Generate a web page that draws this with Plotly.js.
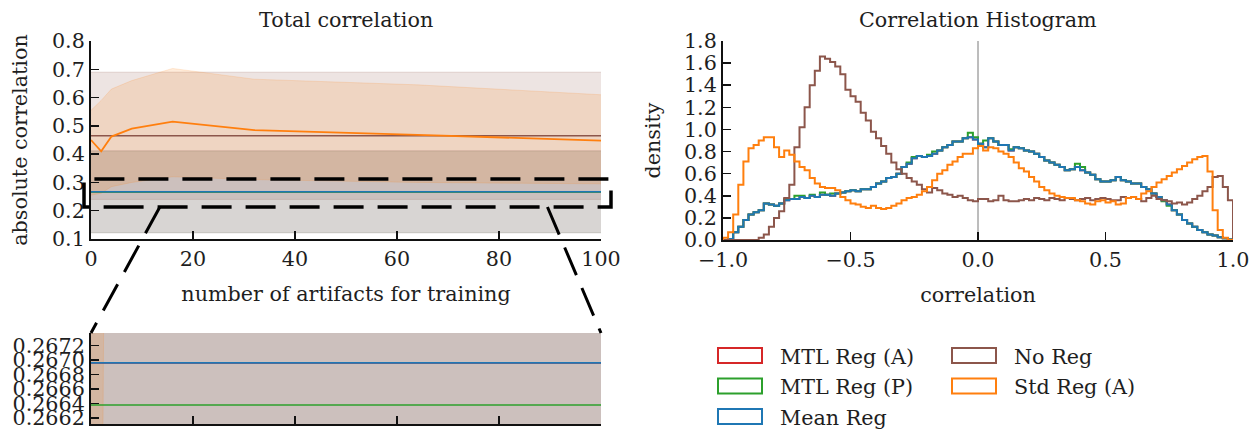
<!DOCTYPE html>
<html><head><meta charset="utf-8">
<script src="https://cdn.plot.ly/plotly-3.0.1.min.js"></script>
<style>html,body{margin:0;padding:0;background:#fff;} #chart{width:1258px;height:430px;}</style>
</head><body><div id="chart"></div>
<script>
// ---------------- DATA ----------------
const seriesNames = ['MTL Reg (A)', 'MTL Reg (P)', 'Mean Reg', 'No Reg', 'Std Reg (A)'];

// Left panel: total correlation vs number of artifacts
const artifacts   = [0, 2, 4, 8, 16, 32, 64, 100];
const stdRegMean  = [0.450, 0.410, 0.462, 0.490, 0.515, 0.485, 0.468, 0.448];
const stdRegUpper = [0.555, 0.590, 0.630, 0.660, 0.703, 0.665, 0.645, 0.610];
const stdRegLower = [0.255, 0.262, 0.285, 0.300, 0.320, 0.310, 0.300, 0.295];

const flatX        = [0, 100];
const noRegMean    = [0.465, 0.465];
const noRegUpper   = [0.690, 0.690];
const noRegLower   = [0.240, 0.240];
const meanRegMean  = [0.26696, 0.26696];
const meanRegUpper = [0.412, 0.412];
const meanRegLower = [0.122, 0.122];
const mtlPMean     = [0.26638, 0.26638];
const mtlPUpper    = [0.411, 0.411];
const mtlPLower    = [0.122, 0.122];
const mtlAMean     = [0.26696, 0.26696];
const mtlAUpper    = [0.412, 0.412];
const mtlALower    = [0.122, 0.122];

const mainXTicks  = [0, 20, 40, 60, 80, 100];
const mainYTicks  = [0.1, 0.2, 0.3, 0.4, 0.5, 0.6, 0.7, 0.8];
const insetYTicks = [0.2662, 0.2664, 0.2666, 0.2668, 0.2670, 0.2672];

// zoom-box drawn on the left panel (data units of the main axes)
const zoomBoxX = [-1.37, 101.96];
const zoomBoxY = [0.2131, 0.3121];
const zoomBoxDashStartX = 4.43;
const connectorStartX = [13.5, 89.5];

// Right panel: histogram (density), 100 bins from -1 to 1
const histBinStart = -1.0;
const histBinWidth = 0.02;
const histMtlA = [0.00,0.01,0.07,0.12,0.18,0.23,0.25,0.27,0.33,0.32,
 0.31,0.33,0.36,0.37,0.37,0.39,0.38,0.40,0.39,0.41,
 0.41,0.40,0.42,0.43,0.44,0.45,0.44,0.46,0.46,0.48,
 0.51,0.53,0.56,0.57,0.60,0.66,0.69,0.74,0.76,0.75,
 0.76,0.78,0.81,0.84,0.86,0.89,0.89,0.92,0.93,0.91,
 0.87,0.84,0.92,0.89,0.86,0.86,0.81,0.84,0.83,0.81,
 0.80,0.78,0.75,0.72,0.70,0.68,0.66,0.63,0.64,0.66,
 0.63,0.61,0.59,0.55,0.53,0.53,0.54,0.57,0.54,0.53,
 0.51,0.51,0.48,0.46,0.42,0.39,0.36,0.32,0.27,0.23,
 0.18,0.15,0.12,0.09,0.07,0.05,0.04,0.025,0.015,0.005];
const histMtlP = [0.00,0.01,0.07,0.12,0.18,0.23,0.25,0.27,0.33,0.32,
 0.31,0.33,0.37,0.37,0.40,0.40,0.38,0.41,0.39,0.43,
 0.41,0.42,0.42,0.43,0.44,0.45,0.44,0.46,0.46,0.48,
 0.51,0.53,0.56,0.57,0.60,0.66,0.70,0.75,0.76,0.75,
 0.77,0.80,0.81,0.84,0.86,0.89,0.89,0.92,0.97,0.93,
 0.87,0.90,0.92,0.89,0.86,0.86,0.82,0.84,0.83,0.81,
 0.80,0.78,0.75,0.72,0.70,0.68,0.66,0.63,0.64,0.69,
 0.66,0.61,0.59,0.55,0.53,0.53,0.54,0.57,0.54,0.53,
 0.51,0.51,0.48,0.46,0.42,0.39,0.35,0.31,0.27,0.23,
 0.18,0.15,0.12,0.09,0.07,0.05,0.04,0.025,0.015,0.005];
const histMeanReg = [0.00,0.01,0.07,0.12,0.18,0.23,0.25,0.27,0.33,0.32,
 0.31,0.33,0.36,0.37,0.37,0.39,0.38,0.40,0.39,0.41,
 0.41,0.40,0.42,0.43,0.44,0.45,0.44,0.46,0.46,0.48,
 0.51,0.53,0.56,0.57,0.60,0.66,0.69,0.74,0.76,0.75,
 0.76,0.78,0.81,0.84,0.86,0.89,0.89,0.92,0.93,0.91,
 0.87,0.84,0.92,0.89,0.86,0.86,0.81,0.84,0.83,0.81,
 0.80,0.78,0.75,0.72,0.70,0.68,0.66,0.63,0.64,0.66,
 0.63,0.61,0.59,0.55,0.53,0.53,0.54,0.57,0.54,0.53,
 0.51,0.51,0.48,0.46,0.42,0.39,0.36,0.32,0.27,0.23,
 0.18,0.15,0.12,0.09,0.07,0.05,0.04,0.025,0.015,0.005];
const histNoReg = [0,0,0,0,0,0,0,0.02,0.05,0.12,
 0.20,0.26,0.38,0.50,0.84,1.02,1.20,1.40,1.53,1.66,
 1.64,1.61,1.57,1.50,1.36,1.30,1.25,1.15,1.08,0.98,
 0.92,0.85,0.78,0.70,0.64,0.60,0.56,0.53,0.50,0.46,
 0.43,0.47,0.45,0.42,0.41,0.39,0.40,0.38,0.36,0.35,
 0.37,0.37,0.35,0.36,0.40,0.36,0.35,0.35,0.36,0.37,
 0.36,0.38,0.37,0.36,0.38,0.37,0.36,0.38,0.37,0.36,
 0.37,0.38,0.36,0.37,0.38,0.37,0.36,0.36,0.39,0.38,
 0.39,0.37,0.35,0.38,0.40,0.37,0.36,0.35,0.33,0.34,
 0.32,0.34,0.37,0.40,0.44,0.48,0.57,0.58,0.48,0.36];
const histStdReg = [0.02,0.07,0.23,0.50,0.71,0.83,0.86,0.90,0.93,0.93,
 0.84,0.75,0.81,0.77,0.71,0.66,0.63,0.56,0.51,0.48,
 0.47,0.47,0.45,0.39,0.36,0.33,0.32,0.30,0.29,0.31,
 0.29,0.28,0.29,0.31,0.33,0.36,0.38,0.39,0.41,0.44,
 0.48,0.54,0.60,0.63,0.68,0.71,0.75,0.78,0.78,0.83,
 0.85,0.81,0.84,0.83,0.80,0.78,0.75,0.70,0.65,0.62,
 0.57,0.53,0.48,0.45,0.42,0.40,0.39,0.38,0.38,0.36,
 0.35,0.33,0.32,0.35,0.36,0.34,0.35,0.32,0.33,0.38,
 0.39,0.37,0.42,0.44,0.48,0.52,0.55,0.58,0.61,0.64,
 0.67,0.70,0.73,0.75,0.76,0.62,0.27,0.09,0.02,0.00];
const histXTicks = [-1, -0.5, 0, 0.5, 1];
const histYTicks = [0, 0.2, 0.4, 0.6, 0.8, 1.0, 1.2, 1.4, 1.6, 1.8];

// ---------------- STYLE / LAYOUT ----------------
const W = 1258, H = 430;
const FONT = 'DejaVu Serif';
const FS = 20.7;
const TXT = '#1e1e1e';
const C = {mtlA:'#d62728', mtlP:'#2ca02c', mean:'#1f77b4', noReg:'#8c564b', std:'#ff7f0e'};
const BAND_ALPHA = {mtlA:0.12, mtlP:0.07, mean:0.09, noReg:0.16, std:0.15};
function rgba(hex, a){const n=parseInt(hex.slice(1),16);return `rgba(${n>>16},${(n>>8)&255},${n&255},${a})`;}

// pixel boxes of the three panels
const P = {
  main:  {x0:91,  x1:601,  y0:41,  y1:239},
  inset: {x0:91,  x1:601,  y0:333, y1:424},
  hist:  {x0:723, x1:1233, y0:41,  y1:240}
};
const domX = b => [b.x0/W, b.x1/W];
const domY = b => [1 - b.y1/H, 1 - b.y0/H];
const mainRangeX = [0, 100], mainRangeY = [0.1, 0.8];
const insetRangeY = [0.26612, 0.26737];

// data (main axes) -> paper
function mainPaper(x, y){
  const b = P.main;
  const px = b.x0 + (x - mainRangeX[0])/(mainRangeX[1]-mainRangeX[0])*(b.x1-b.x0);
  const py = b.y1 - (y - mainRangeY[0])/(mainRangeY[1]-mainRangeY[0])*(b.y1-b.y0);
  return [px/W, 1 - py/H];
}

const traces = [];
function band(x, lo, hi, color, alpha, xa, ya){
  const fc = rgba(color, alpha);
  traces.push({x, y: lo, xaxis:xa, yaxis:ya, mode:'lines', line:{width:1, color:fc}, hoverinfo:'skip', showlegend:false});
  traces.push({x, y: hi, xaxis:xa, yaxis:ya, mode:'lines', fill:'tonexty', fillcolor:fc, line:{width:1, color:fc}, hoverinfo:'skip', showlegend:false});
}
function line(x, y, color, width, xa, ya, name){
  traces.push({x, y, xaxis:xa, yaxis:ya, mode:'lines', name, line:{width, color}, hoverinfo:'skip', showlegend:false});
}
[['x','y'],['x2','y2']].forEach(([xa,ya])=>{
  band(flatX, mtlALower, mtlAUpper, C.mtlA, BAND_ALPHA.mtlA, xa, ya);
  band(flatX, mtlPLower, mtlPUpper, C.mtlP, BAND_ALPHA.mtlP, xa, ya);
  band(flatX, meanRegLower, meanRegUpper, C.mean, BAND_ALPHA.mean, xa, ya);
  band(flatX, noRegLower, noRegUpper, C.noReg, BAND_ALPHA.noReg, xa, ya);
  band(artifacts, stdRegLower, stdRegUpper, C.std, BAND_ALPHA.std, xa, ya);
  line(flatX, mtlAMean, C.mtlA, 1.6, xa, ya, seriesNames[0]);
  line(flatX, mtlPMean, C.mtlP, 1.6, xa, ya, seriesNames[1]);
  line(flatX, meanRegMean, C.mean, 1.6, xa, ya, seriesNames[2]);
  line(flatX, noRegMean, C.noReg, 1.6, xa, ya, seriesNames[3]);
  line(artifacts, stdRegMean, C.std, 1.8, xa, ya, seriesNames[4]);
});

// histogram step outlines
const binEdges = [];
for(let i=0;i<=histMeanReg.length;i++) binEdges.push(+(histBinStart + i*histBinWidth).toFixed(4));
function stepTrace(vals, color, name){
  const x = [binEdges[0]].concat(binEdges.slice(0, vals.length)).concat([binEdges[vals.length]]);
  const y = [0].concat(vals).concat([0]);
  traces.push({x, y, xaxis:'x3', yaxis:'y3', mode:'lines', name, line:{shape:'hv', width:2, color}, hoverinfo:'skip', showlegend:false});
}
stepTrace(histMtlA, C.mtlA, seriesNames[0]);
stepTrace(histMtlP, C.mtlP, seriesNames[1]);
stepTrace(histMeanReg, C.mean, seriesNames[2]);
stepTrace(histNoReg, C.noReg, seriesNames[3]);
stepTrace(histStdReg, C.std, seriesNames[4]);

const axBase = {showgrid:false, zeroline:false, showline:true, linecolor:'#111', linewidth:2,
  ticks:'inside', ticklen:8, tickwidth:1.5, tickcolor:'#111', ticklabeloverflow:'allow',
  tickfont:{family:FONT, size:FS, color:TXT}, fixedrange:true, automargin:false};
const titleFont = {family:FONT, size:FS, color:TXT};

const shapes = [];
// zero line in histogram
shapes.push({type:'line', xref:'x3', yref:'y3', x0:0, x1:0, y0:histYTicks[0], y1:histYTicks[histYTicks.length-1],
  line:{color:'#7a7a7a', width:1}, layer:'below'});
// zoom box (closed dashed path)
{
  const a = mainPaper(zoomBoxDashStartX, zoomBoxY[0]);
  const br = mainPaper(zoomBoxX[1], zoomBoxY[0]);
  const tr = mainPaper(zoomBoxX[1], zoomBoxY[1]);
  const tl = mainPaper(zoomBoxX[0], zoomBoxY[1]);
  const bl = mainPaper(zoomBoxX[0], zoomBoxY[0]);
  shapes.push({type:'path', xref:'paper', yref:'paper',
    path:`M${a[0]},${a[1]} L${br[0]},${br[1]} L${tr[0]},${tr[1]} L${tl[0]},${tl[1]} L${bl[0]},${bl[1]} Z`,
    line:{color:'#000', width:3.5, dash:'30px,14px'}});
  // connectors to inset corners
  const insTop = 1 - P.inset.y0/H;
  const s1 = mainPaper(connectorStartX[0], zoomBoxY[0]);
  const s2 = mainPaper(connectorStartX[1], zoomBoxY[0]);
  shapes.push({type:'line', xref:'paper', yref:'paper', x0:s1[0], y0:s1[1], x1:P.inset.x0/W, y1:insTop,
    line:{color:'#000', width:3, dash:'30px,14px'}});
  shapes.push({type:'line', xref:'paper', yref:'paper', x0:s2[0], y0:s2[1], x1:P.inset.x1/W, y1:insTop,
    line:{color:'#000', width:3, dash:'30px,14px'}});
}

// manual legend (two columns)
const annotations = [];
const legendColors = [C.mtlA, C.mtlP, C.mean, C.noReg, C.std];
const legendCols = [{rx:718, tx:778}, {rx:952, tx:1012}];
const legendRows = [355.5, 386, 416.5];
seriesNames.forEach((nm, i)=>{
  const col = legendCols[i < 3 ? 0 : 1];
  const cy = legendRows[i < 3 ? i : i-3];
  shapes.push({type:'rect', xref:'paper', yref:'paper', x0:col.rx/W, x1:(col.rx+44)/W,
    y0:1-(cy+7.5)/H, y1:1-(cy-7.5)/H, line:{color:legendColors[i], width:2}, fillcolor:'rgba(0,0,0,0)'});
  annotations.push({xref:'paper', yref:'paper', x:col.tx/W, y:1-(cy+1)/H, xanchor:'left', yanchor:'middle',
    text:nm, showarrow:false, font:{family:FONT, size:FS, color:TXT}});
});
// panel titles
annotations.push({xref:'paper', yref:'paper', x:(P.main.x0+P.main.x1)/2/W, y:1-20/H, xanchor:'center', yanchor:'middle',
  text:'Total correlation', showarrow:false, font:titleFont});
annotations.push({xref:'paper', yref:'paper', x:(P.hist.x0+P.hist.x1)/2/W, y:1-20/H, xanchor:'center', yanchor:'middle',
  text:'Correlation Histogram', showarrow:false, font:titleFont});

const layout = {
  width:W, height:H, margin:{l:0,r:0,t:0,b:0}, paper_bgcolor:'#fff', plot_bgcolor:'rgba(0,0,0,0)',
  showlegend:false, font:{family:FONT, size:FS, color:TXT},
  xaxis: Object.assign({}, axBase, {domain:domX(P.main), range:mainRangeX, tickvals:mainXTicks, anchor:'y',
    title:{text:'number of artifacts for training', font:titleFont, standoff:17}}),
  yaxis: Object.assign({}, axBase, {domain:domY(P.main), range:mainRangeY, tickvals:mainYTicks, tickformat:'.1f', anchor:'x',
    title:{text:'absolute correlation', font:titleFont, standoff:19}}),
  xaxis2: Object.assign({}, axBase, {domain:domX(P.inset), range:mainRangeX, tickvals:mainXTicks, showticklabels:false, anchor:'y2'}),
  yaxis2: Object.assign({}, axBase, {domain:domY(P.inset), range:insetRangeY, tickvals:insetYTicks, tickformat:'.4f', anchor:'x2'}),
  xaxis3: Object.assign({}, axBase, {domain:domX(P.hist), range:[histXTicks[0], histXTicks[histXTicks.length-1]], tickvals:histXTicks, tickformat:'.1f', anchor:'y3',
    title:{text:'correlation', font:titleFont, standoff:17}}),
  yaxis3: Object.assign({}, axBase, {domain:domY(P.hist), range:[histYTicks[0], histYTicks[histYTicks.length-1]], tickvals:histYTicks, tickformat:'.1f', anchor:'x3',
    title:{text:'density', font:titleFont, standoff:18}}),
  shapes, annotations
};
Plotly.newPlot('chart', traces, layout, {displayModeBar:false, staticPlot:true});
</script></body></html>
